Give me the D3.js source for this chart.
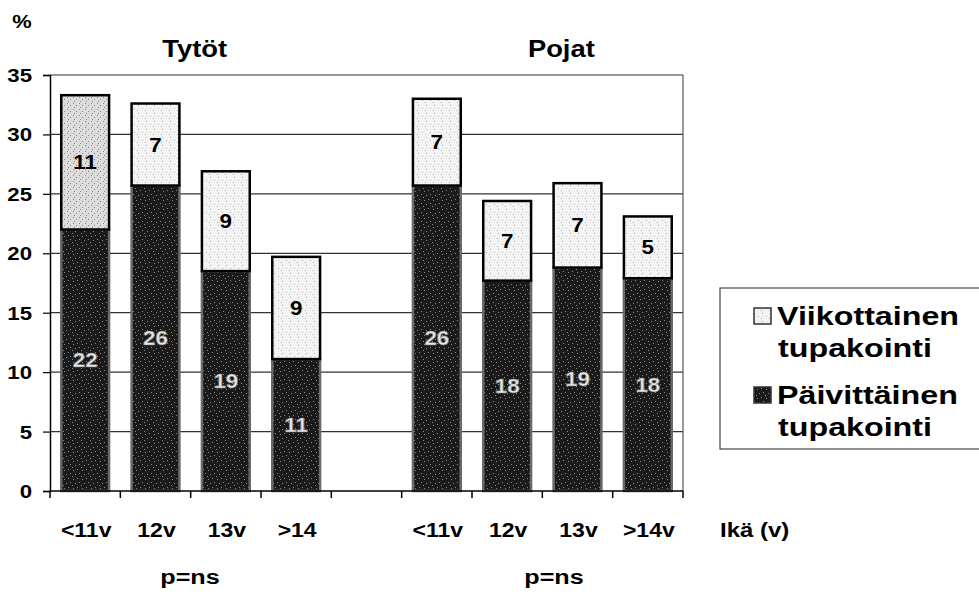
<!DOCTYPE html>
<html><head><meta charset="utf-8">
<script src="https://cdn.jsdelivr.net/npm/d3@7"></script>
<style>body{margin:0;background:#fff}svg{display:block;font-family:"Liberation Sans",Arial,sans-serif;font-weight:bold}</style>
</head><body><svg id="c" width="979" height="595"></svg>
<script>
const groups = ["Tytöt", "Pojat"];
const slots = ["T1","T2","T3","T4","gap","P1","P2","P3","P4"];
const ageLabels = ["<11v","12v","13v",">14","","<11v","12v","13v",">14v"];
const dailyGirls = [22.0, 25.7, 18.5, 11.1];
const weeklyGirls = [11.3, 6.9, 8.4, 8.6];
const dailyBoys = [25.7, 17.7, 18.8, 17.9];
const weeklyBoys = [7.3, 6.7, 7.1, 5.2];
const dailyLabels = ["22","26","19","11","","26","18","19","18"];
const weeklyLabels = ["11","7","9","9","","7","7","7","5"];
const yTicks = [0,5,10,15,20,25,30,35];
const seriesNames = ["Viikottainen tupakointi", "Päivittäinen tupakointi"];

const svg = d3.select("#c");
const x = d3.scaleBand().domain(slots).range([50, 683]).paddingInner(0.32).paddingOuter(0.16);
const y = d3.scaleLinear().domain([0, 35]).range([491, 75]);
const step = x.step();

// stretched text helper (reference glyphs are wider than the font)
function stext(parent, tx, ty, size, sx, anchor, str) {
  return parent.append("text").attr("transform", `translate(${tx},${ty}) scale(${sx},1)`)
    .attr("text-anchor", anchor).attr("font-size", size).attr("fill", "#000").text(str);
}

const rows = slots.map((s, i) => {
  if (s === "gap") return null;
  const g = i < 4 ? 0 : 1, j = i < 4 ? i : i - 5;
  const d = g === 0 ? dailyGirls[j] : dailyBoys[j];
  const w = g === 0 ? weeklyGirls[j] : weeklyBoys[j];
  return {slot: s, daily: d, weekly: w, dl: dailyLabels[i], wl: weeklyLabels[i]};
}).filter(Boolean);

// textures
const defs = svg.append("defs");
const pd = defs.append("pattern").attr("id","dark").attr("patternUnits","userSpaceOnUse").attr("width",9).attr("height",9);
pd.append("rect").attr("width",9).attr("height",9).attr("fill","#1a1a1a");
[[1,2],[5,1],[3,6],[7,5],[0,8]].forEach(p=>pd.append("rect").attr("x",p[0]).attr("y",p[1]).attr("width",1).attr("height",1).attr("fill","#8a8a8a"));
const pl = defs.append("pattern").attr("id","light").attr("patternUnits","userSpaceOnUse").attr("width",8).attr("height",8);
pl.append("rect").attr("width",8).attr("height",8).attr("fill","#f3f3f3");
[[2,1],[6,4],[1,6]].forEach(p=>pl.append("rect").attr("x",p[0]).attr("y",p[1]).attr("width",1).attr("height",1).attr("fill","#b5b5b5"));
const pg = defs.append("pattern").attr("id","mid").attr("patternUnits","userSpaceOnUse").attr("width",6).attr("height",6);
pg.append("rect").attr("width",6).attr("height",6).attr("fill","#dcdcdc");
[[1,1],[4,3],[2,5]].forEach(p=>pg.append("rect").attr("x",p[0]).attr("y",p[1]).attr("width",1).attr("height",1).attr("fill","#888"));

// grid
svg.append("g").selectAll("line").data(yTicks.filter(t => t > 0)).join("line")
  .attr("x1", 50).attr("x2", 683).attr("y1", d => y(d)).attr("y2", d => y(d))
  .attr("stroke", "#333").attr("stroke-width", 1.2);
svg.append("line").attr("x1",683).attr("x2",683).attr("y1",y(35)).attr("y2",y(0)).attr("stroke","#555").attr("stroke-width",1.2);

// bars
const bars = svg.append("g");
bars.selectAll("rect.d").data(rows).join("rect").attr("class","d")
  .attr("x", d => x(d.slot)).attr("width", x.bandwidth())
  .attr("y", d => y(d.daily)).attr("height", d => y(0) - y(d.daily))
  .attr("fill", "url(#dark)").attr("stroke", "#6a6a6a").attr("stroke-width", 2.5);
bars.selectAll("rect.w").data(rows).join("rect").attr("class","w")
  .attr("x", d => x(d.slot)).attr("width", x.bandwidth())
  .attr("y", d => y(d.daily + d.weekly)).attr("height", d => y(d.daily) - y(d.daily + d.weekly))
  .attr("fill", (d,i) => i === 0 ? "url(#mid)" : "url(#light)").attr("stroke", "#000").attr("stroke-width", 2.5);
rows.forEach(d => {
  const cx = x(d.slot) + x.bandwidth()/2;
  stext(bars, cx, y(d.daily + d.weekly/2) + 7, 20, 1.12, "middle", d.wl);
  stext(bars, cx, y(d.daily/2) + 7, 20, 1.12, "middle", d.dl)
    .attr("fill","#e8e8e8").attr("stroke","#777").attr("stroke-width",0.6);
});

// axes
const ya = svg.append("g").attr("transform","translate(50,0)")
  .call(d3.axisLeft(y).tickValues(yTicks).tickSize(7).tickFormat(""));
ya.select(".domain").attr("stroke","#000").attr("stroke-width",1.5);
ya.selectAll(".tick line").attr("stroke","#000").attr("stroke-width",1.2);
yTicks.forEach(t => stext(svg, 32, y(t) + 7, 19, 1.17, "end", String(t)));

svg.append("line").attr("x1",50).attr("x2",683).attr("y1",y(0)).attr("y2",y(0)).attr("stroke","#000").attr("stroke-width",1.5);
const bounds = slots.map(s => x(s) - step * 0.16).concat([x(slots[slots.length-1]) + x.bandwidth() + step*0.16]);
svg.append("g").selectAll("line").data(bounds).join("line")
  .attr("x1", d => d).attr("x2", d => d).attr("y1", y(0)).attr("y2", y(0) + 7).attr("stroke","#000").attr("stroke-width",1.5);
const xl = svg.append("g");
slots.forEach((s, i) => { if (ageLabels[i]) stext(xl, x(s) + x.bandwidth()/2 + 1, 537, 20, 1.15, "middle", ageLabels[i]); });

// titles
stext(svg, 22, 28, 19, 1.15, "middle", "%");
const titleX = [x("T2") + x.bandwidth() + (x("T3") - x("T2") - x.bandwidth())/2, x("P2") + x.bandwidth() + (x("P3") - x("P2") - x.bandwidth())/2];
groups.forEach((g, i) => {
  stext(svg, titleX[i] + (i === 0 ? 4 : 19), 57, 24, 1.14, "middle", g);
  stext(svg, [190, 554][i], 584, 21, 1.2, "middle", "p=ns");
});
stext(svg, 720, 537, 20, 1.2, "start", "Ikä (v)");

// legend
const lg = svg.append("g");
lg.append("rect").attr("x",720).attr("y",288).attr("width",270).attr("height",161).attr("fill","#fff").attr("stroke","#444").attr("stroke-width",1.2);
const legendItems = [{fill:"url(#light)", y:325, name: seriesNames[0]}, {fill:"url(#dark)", y:404, name: seriesNames[1]}];
legendItems.forEach(it => {
  const parts = it.name.split(" ");
  lg.append("rect").attr("x",754).attr("y",it.y-17).attr("width",17).attr("height",16).attr("fill",it.fill).attr("stroke","#333").attr("stroke-width",1.5);
  stext(lg, 777, it.y, 26, 1.24, "start", parts[0]);
  stext(lg, 855, it.y + 32, 26, 1.24, "middle", parts[1]);
});
</script></body></html>
